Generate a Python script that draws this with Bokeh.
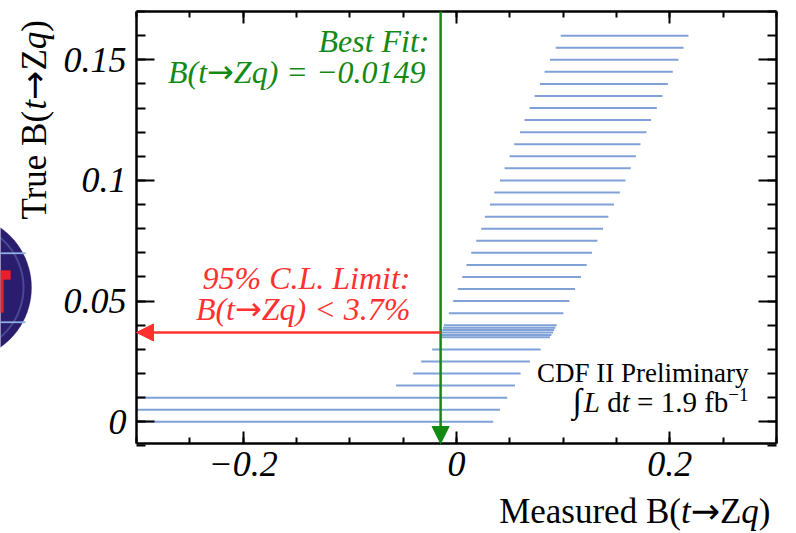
import math
from bokeh.plotting import figure
from bokeh.models import (Range1d, LinearAxis, FixedTicker, Label, Arrow,
                          NormalHead, PolyAnnotation)
from bokeh.embed import file_html
from bokeh.resources import INLINE

# ---------------- data ----------------
true_b = [0.000, 0.005, 0.010, 0.015, 0.020, 0.025, 0.030, 0.035, 0.036,
          0.037, 0.038, 0.039, 0.040, 0.045, 0.050, 0.055, 0.060, 0.065,
          0.070, 0.075, 0.080, 0.085, 0.090, 0.095, 0.100, 0.105, 0.110,
          0.115, 0.120, 0.125, 0.130, 0.135, 0.140, 0.145, 0.150, 0.155,
          0.160]
meas_lo = [-0.300, -0.300, -0.300, -0.0566, -0.0407, -0.0331, -0.0228,
           -0.0157, -0.0150, -0.0140, -0.0133, -0.0126, -0.0119, -0.0072,
           -0.0031, 0.0012, 0.0054, 0.0094, 0.0138, 0.0185, 0.0232, 0.0266,
           0.0313, 0.0354, 0.0407, 0.0451, 0.0498, 0.0541, 0.0595, 0.0638,
           0.0685, 0.0732, 0.0782, 0.0826, 0.0876, 0.0930, 0.0977]
meas_hi = [0.0344, 0.0407, 0.0476, 0.0548, 0.0601, 0.0688, 0.0789, 0.0876,
           0.0890, 0.0905, 0.0915, 0.0928, 0.0939, 0.1002, 0.1058, 0.1111,
           0.1167, 0.1221, 0.1270, 0.1321, 0.1374, 0.1424, 0.1477, 0.1531,
           0.1584, 0.1634, 0.1681, 0.1725, 0.1781, 0.1824, 0.1878, 0.1931,
           0.1981, 0.2028, 0.2081, 0.2129, 0.2175]
best_fit = -0.0149
limit_cl95 = 0.037

x_ticks = [-0.2, 0.0, 0.2]
x_tick_labels = ["\u22120.2", "0", "0.2"]
y_ticks = [0.0, 0.05, 0.10, 0.15]
y_tick_labels = ["0", "0.05", "0.1", "0.15"]

# ---------------- layout constants ----------------
W, H = 796, 533
X0, X1 = -0.3, 0.3          # visible axis range (x)
Y0, Y1 = -0.009, 0.17       # visible axis range (y)
FL, FR, FT, FB = 136, 776, 11, 443   # drawn frame in canvas pixels

PXX = (FR - FL) / (X1 - X0)
PXY = (FB - FT) / (Y1 - Y0)
XR0, XR1 = X0 - FL / PXX, X1 + (W - FR) / PXX
YR0, YR1 = Y0 - (H - FB) / PXY, Y1 + FT / PXY

GREEN = "#148a14"
RED = "#ff3030"
BLUE = "#7fa1d8"
FONT = "Liberation Serif"
ARROW_FONT = "DejaVu Sans"
BASE_CORR = 0.35   # empirical shift so that y is the text baseline


def px_x(px):
    return XR0 + px / PXX


def px_y(py):
    return YR1 - py / PXY


REG = {' ': 250, '(': 333, ')': 333, '.': 250, '=': 564, '<': 564,
       '%': 833, ':': 278, '\u2192': 1000, '\u2212': 564, '\u222b': 330,
       'B': 667, 'C': 667, 'D': 722, 'F': 556, 'I': 333, 'L': 611,
       'M': 889, 'P': 556, 'T': 611, 'Z': 611, 'a': 444, 'b': 500,
       'd': 500, 'e': 444, 'f': 333, 'i': 278, 'l': 278, 'm': 778,
       'n': 500, 'r': 333, 's': 389, 't': 278, 'u': 500, 'y': 500,
       'q': 500}
ITA = {' ': 250, '(': 333, ')': 333, '.': 250, 't': 278, 'q': 500,
       'L': 556, 'Z': 556, 'B': 611, '=': 675, '<': 675, '\u2212': 675,
       '%': 833, ':': 333}
ARR = {'\u2192': 838}


def tw(s, style, size):
    tab = {"n": REG, "i": ITA, "a": ARR}[style]
    return sum(tab.get(c, 500) for c in s) / 1000.0 * size


p = figure(width=W, height=H, x_range=Range1d(XR0, XR1),
           y_range=Range1d(YR0, YR1), output_backend="svg",
           toolbar_location=None, x_axis_location=None,
           y_axis_location=None, min_border=0, min_border_left=0,
           min_border_right=0, min_border_top=0, min_border_bottom=0)
p.grid.visible = False
p.outline_line_color = None
p.background_fill_color = "white"
p.border_fill_color = "white"

x_minor = [round(-0.3 + 0.05 * i, 2) for i in range(13)]
y_minor = [round(-0.01 + 0.01 * i, 2) for i in range(19)]


def base_style(ax, show_line=True):
    ax.major_tick_out = 0
    ax.minor_tick_out = 0
    ax.axis_line_color = "black" if show_line else None
    ax.axis_line_width = 2.5
    ax.major_tick_line_width = 2
    ax.minor_tick_line_width = 2
    ax.major_tick_line_color = "black"
    ax.minor_tick_line_color = "black"
    ax.major_label_text_font = FONT
    ax.major_label_text_font_style = "italic"
    ax.major_label_text_font_size = "36px"
    ax.major_label_text_color = "black"
    ax.axis_label = None


# bottom axis (with labels)
xb = LinearAxis(fixed_location=Y0, bounds=(X0, X1),
                ticker=FixedTicker(ticks=x_ticks, minor_ticks=x_minor))
base_style(xb)
xb.major_tick_in = 12
xb.minor_tick_in = 6
xb.major_label_standoff = 8
xb.major_label_overrides = {k: v for k, v in zip(x_ticks, x_tick_labels)}
p.add_layout(xb, "below")

# left axis (with labels)
yl = LinearAxis(fixed_location=X0, bounds=(Y0, Y1),
                ticker=FixedTicker(ticks=y_ticks, minor_ticks=y_minor))
base_style(yl)
yl.major_tick_in = 18
yl.minor_tick_in = 9
yl.major_label_standoff = 10
yl.major_label_overrides = {k: v for k, v in zip(y_ticks, y_tick_labels)}
p.add_layout(yl, "left")

# mirrored top / right axes: ticks only (drawn as minor ticks -> no labels)
for loc, side, bnd, big, small, blen, slen in [
        (Y1, "above", (X0, X1), x_ticks, x_minor, 12, 6),
        (X1, "right", (Y0, Y1), y_ticks, y_minor, 18, 9)]:
    a1 = LinearAxis(fixed_location=loc, bounds=bnd,
                    ticker=FixedTicker(ticks=[], minor_ticks=big))
    base_style(a1)
    a1.minor_tick_in = blen
    p.add_layout(a1, side)
    a2 = LinearAxis(fixed_location=loc, bounds=bnd,
                    ticker=FixedTicker(ticks=[], minor_ticks=small))
    base_style(a2, show_line=False)
    a2.minor_tick_in = slen
    p.add_layout(a2, side)

# ---------------- CDF logo (partially visible at left) ----------------
cx, cy, r = -42, 287, 73
circ_x = [px_x(cx + r * math.cos(2 * math.pi * k / 90)) for k in range(90)]
circ_y = [px_y(cy + r * math.sin(2 * math.pi * k / 90)) for k in range(90)]
p.add_layout(PolyAnnotation(xs=circ_x, ys=circ_y, fill_color="#2a1d6e",
                            fill_alpha=1.0, line_color="#2a1d6e",
                            line_width=1, level="underlay"))
r2 = 65
ring_x = [px_x(cx + r2 * math.cos(2 * math.pi * k / 90)) for k in range(90)]
ring_y = [px_y(cy + r2 * math.sin(2 * math.pi * k / 90)) for k in range(90)]
p.add_layout(PolyAnnotation(xs=ring_x, ys=ring_y, fill_alpha=0,
                            line_color="#8fb0e6", line_width=2,
                            level="underlay"))
for y_a, y_b in ((252, 253.5), (321, 322.5)):
    p.add_layout(PolyAnnotation(
        xs=[px_x(-10), px_x(25), px_x(25), px_x(-10)],
        ys=[px_y(y_a), px_y(y_a), px_y(y_b), px_y(y_b)],
        fill_color="#8fb0e6", fill_alpha=1, line_color="#8fb0e6",
        line_width=1, level="underlay"))
p.add_layout(PolyAnnotation(
    xs=[px_x(-6), px_x(10), px_x(10), px_x(3), px_x(3), px_x(-6)],
    ys=[px_y(270), px_y(270), px_y(279), px_y(279), px_y(312), px_y(312)],
    fill_color="#e8202a", fill_alpha=1, line_color="#e8202a",
    line_width=1, level="underlay"))

# ---------------- confidence belt ----------------
p.segment(x0=meas_lo, y0=true_b, x1=meas_hi, y1=true_b,
          line_color=BLUE, line_width=2)

# ---------------- arrows ----------------
p.add_layout(Arrow(end=NormalHead(size=17, fill_color=GREEN, line_color=GREEN,
                                  line_width=1),
                   x_start=best_fit, y_start=Y1, x_end=best_fit, y_end=Y0,
                   line_color=GREEN, line_width=2.5))
p.add_layout(Arrow(end=NormalHead(size=17, fill_color=RED, line_color=RED,
                                  line_width=1),
                   x_start=best_fit, y_start=limit_cl95, x_end=X0,
                   y_end=limit_cl95, line_color=RED, line_width=2.5))


def label(text, x_px, y_px, size, color, style="n", align="left",
          vertical=False):
    if vertical:
        x_px = x_px - BASE_CORR * size
    else:
        y_px = y_px - BASE_CORR * size
    p.add_layout(Label(x=px_x(x_px), y=px_y(y_px), text=text,
                       text_color=color,
                       text_font=ARROW_FONT if style == "a" else FONT,
                       text_font_size=f"{size}px",
                       text_font_style="italic" if style == "i" else "normal",
                       text_align=align, text_baseline="alphabetic",
                       angle=math.pi / 2 if vertical else 0.0))


def run(pieces, start_px, base_px, color, vertical=False):
    pos = start_px
    for t, st, sz, dy in pieces:
        lead = (len(t) - len(t.lstrip(" "))) * 0.25 * sz
        shown = t.strip(" ")
        if vertical:
            label(shown, base_px - dy, pos - lead, sz, color, st,
                  vertical=True)
            pos -= tw(t, st, sz)
        else:
            label(shown, pos + lead, base_px - dy, sz, color, st)
            pos += tw(t, st, sz)


def run_right(pieces, right_px, base_px, color):
    total = sum(tw(t, st, sz) for t, st, sz, dy in pieces)
    run(pieces, right_px - total, base_px, color)


# annotations inside the frame
label("Best Fit:", 429, 52, 32, GREEN, "i", align="right")
run_right([("B(t", "i", 32, 0), ("\u2192", "a", 32, 0),
           ("Zq) = \u22120.0149", "i", 32, 0)], 425, 83, GREEN)
label("95% C.L. Limit:", 410, 289, 32, RED, "i", align="right")
run_right([("B(t", "i", 32, 0), ("\u2192", "a", 32, 0),
           ("Zq) < 3.7%", "i", 32, 0)], 410, 320, RED)
label("CDF II Preliminary", 748, 382, 27, "black", align="right")
run_right([("\u222b", "n", 34, 0), ("L", "i", 29, 0), (" d", "n", 29, 0),
           ("t", "i", 29, 0), (" = 1.9 fb", "n", 29, 0),
           ("\u22121", "n", 19, 11)], 748, 412, "black")

# x axis title
run_right([("Measured B(", "n", 35, 0), ("t", "i", 35, 0),
           ("\u2192", "a", 35, 0), ("Z", "n", 35, 0), ("q", "i", 35, 0),
           (")", "n", 35, 0)], 770, 523, "black")

# y axis title (rotated, reading upwards)
run([("True B(", "n", 35, 0), ("t", "i", 35, 0), ("\u2192", "a", 35, 0),
     ("Z", "n", 35, 0), ("q", "i", 35, 0), (")", "n", 35, 0)],
    219, 46, "black", vertical=True)

open("out.html", "w").write(file_html(p, INLINE))
